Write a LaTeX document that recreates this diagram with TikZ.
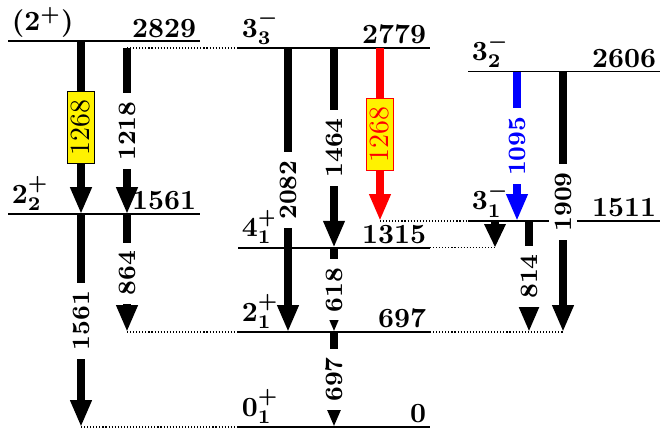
\documentclass[tikz,border=0pt]{standalone}
\usepackage{amsmath}
\usepackage{tikz}
\usetikzlibrary{arrows.meta, calc}

\begin{document}
\begin{tikzpicture}[x=0.36pt, y=0.0491pt,
    level/.style={line width=0.6pt},
    link/.style={line width=0.5pt, dash pattern=on 0.4pt off 0.7pt},
    gam/.style={line width=2.7pt, -{Triangle[width=7.2pt,length=9.7pt]}},
    lbl/.style={fill=white, rotate=90, inner xsep=3pt, inner ysep=2pt, font=\small\bfseries},
    box/.style={draw, line width=0.5pt, fill=yellow, rotate=90, inner xsep=3pt, inner ysep=1.5pt},
    spin/.style={anchor=south west, inner sep=1.2pt, font=\bfseries\boldmath},
    energy/.style={anchor=south east, inner sep=1.2pt, font=\bfseries}]
    \useasboundingbox (0,-7.33) rectangle (660,3131);

    % Levels
    \foreach \x/\E/\J in {8/2829/{(2^+)}, 8/1561/{2^+_2}, 238/2779/{3^-_3}, 238/1315/{4^+_1},
                          238/697/{2^+_1}, 238/0/{0^+_1}, 468/2606/{3^-_2}, 468/1511/{3^-_1}} {
        \draw[level] (\x,\E) coordinate (l\E) -- ++(192,0) coordinate (r\E);
        \node[spin] (j\E) at (l\E) {$\J$};
        \node[energy] (e\E) at (r\E) {\E};
    }

    % Columns of the transitions
    \coordinate (cA) at (81,0);
    \coordinate (cB) at (127,0);
    \coordinate (cC) at (288,0);
    \coordinate (cD) at (334,0);
    \coordinate (cE) at (380,0);
    \coordinate (cF) at (495,0);
    \coordinate (cG) at (517,0);
    \coordinate (cH) at (529,0);
    \coordinate (cI) at (563,0);

    % Dotted links
    \draw[link] (cB |- l2779) -- (l2779);
    \draw[link] (cB |- l697) -- (l697);
    \draw[link] (cA |- l0) -- (l0);
    \draw[link] (cE |- l1511) -- (l1511);
    \draw[link] (r1315) -- (cF |- r1315);
    \draw[link] (r697) -- (cI |- r697);

    % Gamma rays
    \draw[gam] (cA |- l2829) -- (cA |- l1561) node[midway, box] {1268};
    \draw[gam] (cB |- l2779) -- (cB |- l1561) node[midway, lbl] {1218};
    \draw[gam] (cA |- l1561) -- (cA |- l0) node[midway, lbl] {1561};
    \draw[gam] (cB |- l1561) -- (cB |- l697) node[midway, lbl] {864};
    \draw[gam] (cC |- l2779) -- (cC |- l697) node[midway, lbl] {2082};
    \draw[gam] (cD |- l2779) -- (cD |- l1315) node[midway, lbl] {1464};
    \draw[gam, red] (cE |- l2779) -- (cE |- l1511) node[midway, box, text=red] {1268};
    \draw[gam] (cD |- l1315) -- (cD |- l697) node[midway, lbl] {618};
    \draw[gam] (cD |- l697) -- (cD |- l0) node[midway, lbl] {697};
    \draw[gam, blue] (cG |- l2606) -- (cG |- l1511) node[midway, lbl] {1095};
    \draw[gam] (cI |- l2606) -- (cI |- l697) node[midway, lbl] {1909};
    \draw[gam] (cH |- l1511) -- (cH |- l697) node[midway, lbl] {814};
    \draw[line width=2.7pt, -{Triangle[width=7.2pt,length=8.5pt]}] (cF |- l1511) -- (cF |- l1315);
\end{tikzpicture}
\end{document}
